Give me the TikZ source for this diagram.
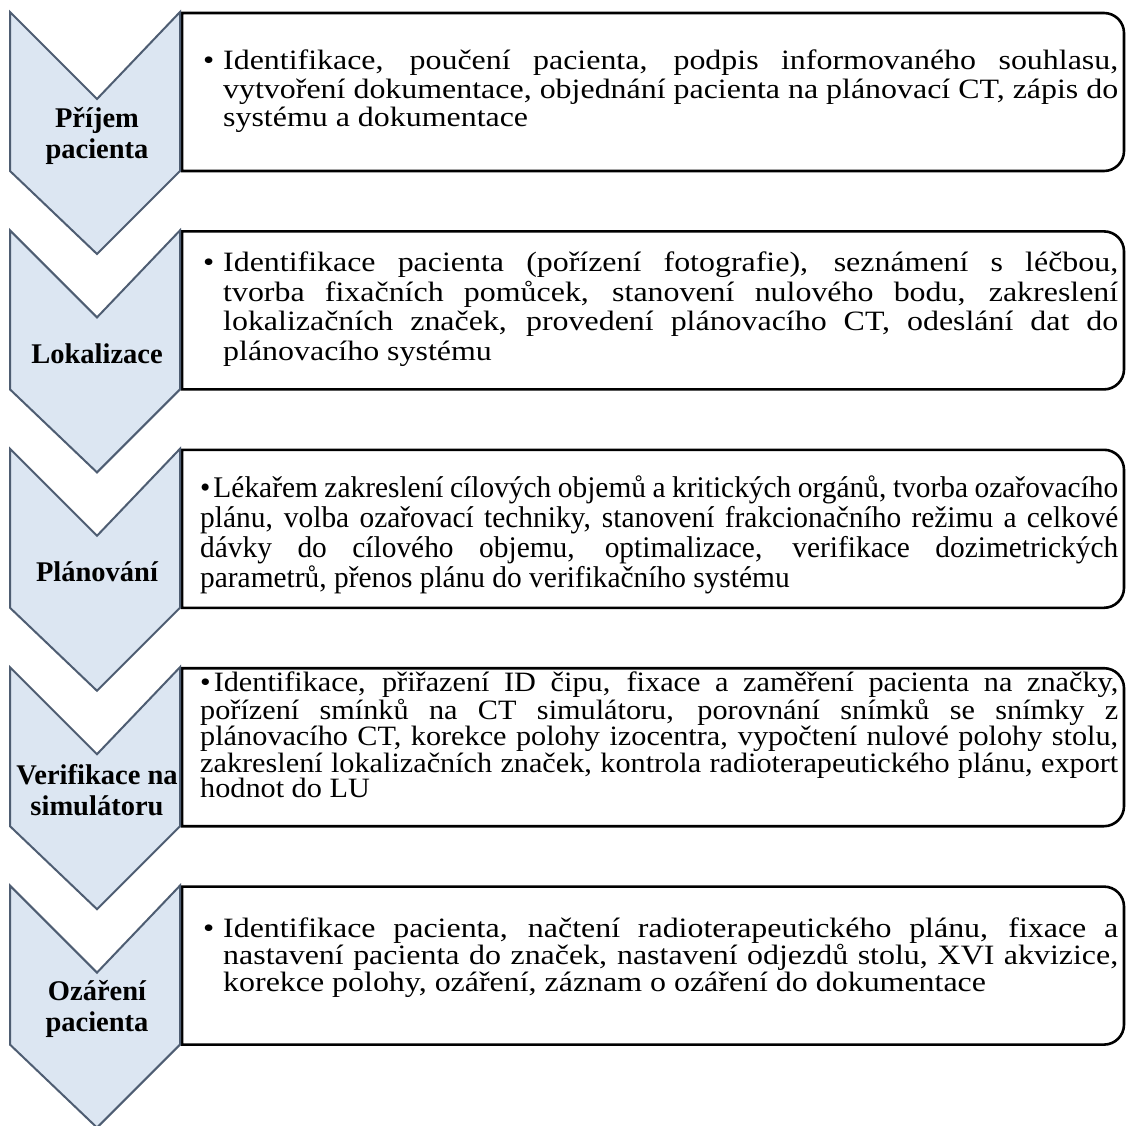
\documentclass[tikz,border=0pt]{standalone}
\usepackage{fontspec}
\setmainfont{Liberation Serif}
\newfontfamily\wideserif[FakeStretch=1.14]{Liberation Serif}
\newfontfamily\threeserif[FakeStretch=0.98]{Liberation Serif}
\newfontfamily\fourserif[FakeStretch=1.08]{Liberation Serif}
\definecolor{chevfill}{HTML}{DCE6F2}
\definecolor{chevline}{HTML}{4E5D72}
\newdimen\linew
\newcommand{\fullline}[1]{\hbox to \linew{#1}}
\newcommand{\lastline}[1]{\hbox to \linew{#1\hfil}}
\newcommand{\hangline}[1]{\hbox to \linew{\hskip20pt #1}}
\newcommand{\hanglast}[1]{\hbox to \linew{\hskip20pt #1\hfil}}
\newcommand{\firstbullet}{\hbox to 20pt{\textbullet\hfil}}
\tikzset{
  chev/.style={fill=chevfill, draw=chevline, line width=2pt, line join=miter},
  stepbox/.style={draw=black, line width=2.6pt, fill=white, line join=miter},
  lbl/.style={font=\fontsize{28.5}{31}\selectfont\bfseries, align=center, inner sep=0pt},
  txt/.style={inner sep=0pt, anchor=west},
}
\begin{document}
\begin{tikzpicture}[x=1pt,y=-1pt]
\useasboundingbox (0,0) rectangle (1126,1126);
\fill[white] (0,0) rectangle (1126,1126);
\foreach \t in {12,230.4,448.8,667.2,885.6} {
  \draw[stepbox] (182,\t+1) -- (1104,\t+1) .. controls (1115,\t+1) and (1124,\t+10) .. (1124,\t+21)
     -- (1124,\t+139) .. controls (1124,\t+150) and (1115,\t+159) .. (1104,\t+159) -- (182,\t+159) -- cycle;
  \draw[chev] (10,\t) -- (97,\t+87) -- (180,\t) -- (180,\t+159) -- (97,\t+242) -- (10,\t+159) -- cycle;
}
% labels
\node[lbl] (l1) at (97,136) {Příjem\\pacienta};
\node[lbl] (l2) at (97,353.4) {Lokalizace};
\node[lbl] (l3) at (97,571.8) {Plánování};
\node[lbl] (l4) at (97,790.2) {Verifikace na\\simulátoru};
\node[lbl] (l5) at (97,1008.6) {Ozáření\\pacienta};
% texts
\node[txt] (t1) at (203,91.5) {\vbox{\wideserif\fontsize{28}{28.5}\selectfont\linew=915pt
  \fullline{\firstbullet Identifikace, poučení pacienta, podpis informovaného souhlasu,}
  \hangline{vytvoření dokumentace, objednání pacienta na plánovací CT, zápis do}
  \hanglast{systému a dokumentace}}};
\node[txt] (t2) at (203,309) {\vbox{\wideserif\fontsize{28}{29.5}\selectfont\linew=915pt
  \fullline{\firstbullet Identifikace pacienta (pořízení fotografie), seznámení s léčbou,}
  \hangline{tvorba fixačních pomůcek, stanovení nulového bodu, zakreslení}
  \hangline{lokalizačních značek, provedení plánovacího CT, odeslání dat do}
  \hanglast{plánovacího systému}}};
\node[txt] (t3) at (200,535) {\vbox{\threeserif\fontsize{30}{30}\selectfont\linew=918pt
  \fullline{\textbullet\kern3pt Lékařem zakreslení cílových objemů a kritických orgánů, tvorba ozařovacího}
  \fullline{plánu, volba ozařovací techniky, stanovení frakcionačního režimu a celkové}
  \fullline{dávky do cílového objemu, optimalizace, verifikace dozimetrických}
  \lastline{parametrů, přenos plánu do verifikačního systému}}};
\node[txt] (t4) at (200,735) {\vbox{\fourserif\fontsize{28}{25.5}\selectfont\linew=918pt
  \fullline{\textbullet\kern3pt Identifikace, přiřazení ID čipu, fixace a zaměření pacienta na značky,}
  \fullline{pořízení smínků na CT simulátoru, porovnání snímků se snímky z}
  \fullline{plánovacího CT, korekce polohy izocentra, vypočtení nulové polohy stolu,}
  \fullline{zakreslení lokalizačních značek, kontrola radioterapeutického plánu, export}
  \lastline{hodnot do LU}}};
\node[txt] (t5) at (203,958) {\vbox{\wideserif\fontsize{28}{27}\selectfont\linew=915pt
  \fullline{\firstbullet Identifikace pacienta, načtení radioterapeutického plánu, fixace a}
  \hangline{nastavení pacienta do značek, nastavení odjezdů stolu, XVI akvizice,}
  \hanglast{korekce polohy, ozáření, záznam o ozáření do dokumentace}}};
\end{tikzpicture}
\end{document}
